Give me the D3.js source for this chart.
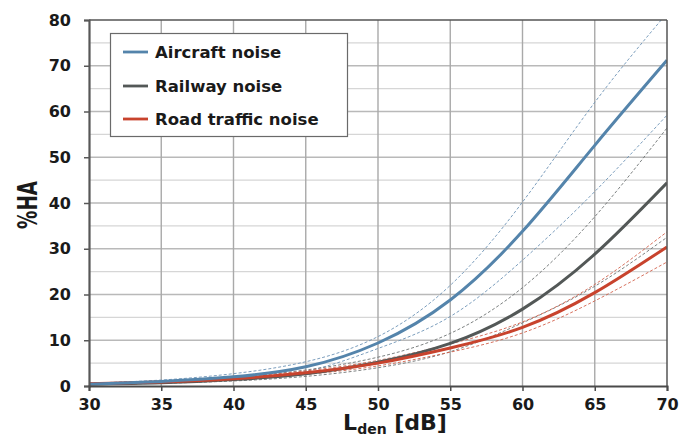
<!DOCTYPE html>
<html>
<head>
<meta charset="utf-8">
<script src="https://cdn.jsdelivr.net/npm/d3@7/dist/d3.min.js"></script>
<style>
  body { margin: 0; background: #fff; }
  svg { display: block; }
  text { font-family: "DejaVu Sans", "Liberation Sans", Arial, sans-serif; font-weight: bold; fill: #1a1a1a; }
</style>
</head>
<body>
<svg id="chart" width="679" height="439"></svg>
<script>
// Exposure levels (Lden, dB) at which each curve is given
const lden = [30, 35, 40, 45, 50, 55, 60, 65, 70];

// Percentage highly annoyed, central estimate and confidence bounds
const aircraft      = [0.4, 1.0, 2.0, 4.2, 9.4, 18.8, 33.8, 52.6, 71.2];
const aircraftUpper = [0.6, 1.3, 2.7, 5.3, 10.8, 22.0, 40.2, 62.0, 81.5];
const aircraftLower = [0.3, 0.8, 1.6, 3.2, 8.2, 15.2, 27.5, 42.5, 59.2];

const railway       = [0.4, 0.7, 1.4, 2.7, 5.2, 9.3, 16.8, 28.8, 44.4];
const railwayUpper  = [0.5, 1.0, 1.9, 3.5, 6.3, 11.5, 21.5, 37.0, 56.4];
const railwayLower  = [0.3, 0.6, 1.1, 2.1, 4.0, 7.5, 13.8, 21.8, 32.5];

const road          = [0.5, 0.9, 1.6, 2.9, 5.0, 8.3, 12.8, 20.4, 30.4];
const roadUpper     = [0.6, 1.1, 1.9, 3.3, 5.6, 9.2, 14.0, 22.2, 33.7];
const roadLower     = [0.4, 0.7, 1.3, 2.5, 4.4, 7.4, 11.6, 18.6, 27.1];

const xTicks = [30, 35, 40, 45, 50, 55, 60, 65, 70];
const yTicks = [0, 10, 20, 30, 40, 50, 60, 70, 80];
const yMinor = [5, 15, 25, 35, 45, 55, 65, 75];

const seriesNames = ["Aircraft noise", "Railway noise", "Road traffic noise"];
const seriesColors = ["#5484ab", "#535857", "#c8432d"];
const bandColors = ["#6d93b6", "#6e7373", "#d2624d"];

const svg = d3.select("#chart");
const margin = { left: 89, right: 12, top: 20, bottom: 53 };
const W = 679, H = 439;

const x = d3.scaleLinear().domain([30, 70]).range([margin.left, W - margin.right]);
const y = d3.scaleLinear().domain([0, 80]).range([H - margin.bottom, margin.top]);

svg.append("rect").attr("width", W).attr("height", H).attr("fill", "#fff");

// clip region for the plotting area
svg.append("clipPath").attr("id", "plotClip")
  .append("rect")
  .attr("x", x(30)).attr("y", y(80))
  .attr("width", x(70) - x(30)).attr("height", y(0) - y(80));

// grid
const grid = svg.append("g");
grid.selectAll(".hmin").data(yMinor).join("line")
  .attr("x1", x(30)).attr("x2", x(70))
  .attr("y1", d => y(d)).attr("y2", d => y(d))
  .attr("stroke", "#d6d6d6").attr("stroke-width", 1.3);
grid.selectAll(".hmaj").data(yTicks.slice(1, -1)).join("line")
  .attr("x1", x(30)).attr("x2", x(70))
  .attr("y1", d => y(d)).attr("y2", d => y(d))
  .attr("stroke", "#b9b9b9").attr("stroke-width", 1.3);
grid.selectAll(".v").data(xTicks.slice(1, -1)).join("line")
  .attr("x1", d => x(d)).attr("x2", d => x(d))
  .attr("y1", y(0)).attr("y2", y(80))
  .attr("stroke", "#a9a9a9").attr("stroke-width", 1.4);

// curves
const line = d3.line()
  .x((d, i) => x(lden[i]))
  .y(d => y(d))
  .curve(d3.curveNatural);

const plot = svg.append("g").attr("clip-path", "url(#plotClip)");

const bands = [
  [aircraftUpper, aircraftLower],
  [railwayUpper, railwayLower],
  [roadUpper, roadLower]
];
bands.forEach((pair, k) => {
  pair.forEach(vals => {
    plot.append("path")
      .attr("d", line(vals))
      .attr("fill", "none")
      .attr("stroke", bandColors[k])
      .attr("stroke-width", 0.9)
      .attr("stroke-dasharray", "3,2");
  });
});

const mains = [aircraft, railway, road];
[1, 2, 0].forEach(k => {
  plot.append("path")
    .attr("d", line(mains[k]))
    .attr("fill", "none")
    .attr("stroke", seriesColors[k])
    .attr("stroke-width", 3);
});

// frame
svg.append("line").attr("x1", x(30)).attr("x2", x(70)).attr("y1", y(80)).attr("y2", y(80))
  .attr("stroke", "#555").attr("stroke-width", 1.5);
svg.append("line").attr("x1", x(70)).attr("x2", x(70)).attr("y1", y(80)).attr("y2", y(0))
  .attr("stroke", "#555").attr("stroke-width", 1.5);

// axes
const yAxis = d3.axisLeft(y).tickValues(yTicks).tickSize(5).tickPadding(13);
const gy = svg.append("g").attr("transform", `translate(${x(30)},0)`).call(yAxis);
gy.select(".domain").attr("stroke", "#585858").attr("stroke-width", 2.2);
gy.selectAll(".tick line").attr("stroke", "#585858").attr("stroke-width", 1.5);
gy.selectAll(".tick text").attr("font-size", 16).attr("font-family", null).attr("fill", "#1a1a1a");

const xAxis = d3.axisBottom(x).tickValues(xTicks).tickSize(5).tickPadding(8);
const gx = svg.append("g").attr("transform", `translate(0,${y(0)})`).call(xAxis);
gx.select(".domain").attr("stroke", "#4a4a4a").attr("stroke-width", 2);
gx.selectAll(".tick line").attr("stroke", "#4a4a4a").attr("stroke-width", 1.5);
gx.selectAll(".tick text").attr("font-size", 16).attr("font-family", null).attr("fill", "#1a1a1a");

// axis titles
svg.append("text")
  .attr("transform", `translate(37,${(y(0) + y(80)) / 2 + 2}) rotate(-90)`)
  .attr("text-anchor", "middle")
  .attr("font-size", 26)
  .attr("textLength", 48).attr("lengthAdjust", "spacingAndGlyphs")
  .text("%HA");

const xt = svg.append("text")
  .attr("x", 395).attr("y", 430)
  .attr("text-anchor", "middle")
  .attr("font-size", 22);
xt.append("tspan").text("L");
xt.append("tspan").attr("font-size", 14).attr("dy", 4).text("den");
xt.append("tspan").attr("dy", -4).text(" [dB]");

// legend
const lg = svg.append("g");
lg.append("rect")
  .attr("x", 110.5).attr("y", 33.5).attr("width", 237).attr("height", 103)
  .attr("fill", "#fff").attr("stroke", "#6a6a6a").attr("stroke-width", 1.2);
const rows = [52, 86, 119];
seriesNames.forEach((name, i) => {
  lg.append("line")
    .attr("x1", 123).attr("x2", 148)
    .attr("y1", rows[i]).attr("y2", rows[i])
    .attr("stroke", seriesColors[i]).attr("stroke-width", 2.8);
  lg.append("text")
    .attr("x", 155).attr("y", rows[i] + 6)
    .attr("font-size", 16.5)
    .text(name);
});
</script>
</body>
</html>
